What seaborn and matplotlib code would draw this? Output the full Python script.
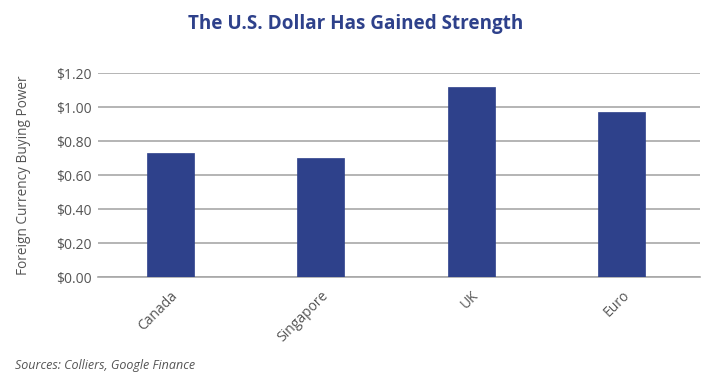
import matplotlib
matplotlib.use("Agg")
import matplotlib.pyplot as plt
import seaborn as sns
import pandas as pd

categories = ["Canada", "Singapore", "UK", "Euro"]
values = [0.73, 0.70, 1.12, 0.97]
yticks = [0.0, 0.2, 0.4, 0.6, 0.8, 1.0, 1.2]
ytick_labels = ["$0.00", "$0.20", "$0.40", "$0.60", "$0.80", "$1.00", "$1.20"]

sns.set_theme(style="white")
plt.rcParams['font.family'] = ['Open Sans', 'DejaVu Sans']

df = pd.DataFrame({"cat": categories, "val": values})

fig = plt.figure(figsize=(7.13, 3.75), dpi=100)
ax = fig.add_axes([98/713, 1 - 277/375, (700-98)/713, (277-73)/375])

sns.barplot(data=df, x="cat", y="val", color="#2E418B", width=0.313,
            saturation=1, ax=ax, zorder=3, edgecolor="#2E418B", linewidth=0.5)

ax.set_ylim(0, 1.2)
ax.set_xlim(-0.48, 3.52)
ax.set_yticks(yticks)
ax.set_yticklabels(ytick_labels, color="#555555", fontsize=10)
ax.yaxis.grid(True, color="#A8A8A8", linewidth=1.2, zorder=0)
ax.xaxis.grid(False)
for s in ["top", "right", "left"]:
    ax.spines[s].set_visible(False)
ax.spines["bottom"].set_color("#A8A8A8")
ax.spines["bottom"].set_linewidth(1.2)
ax.tick_params(axis="y", length=0, pad=4.5)
ax.tick_params(axis="x", length=0, pad=8)
ax.set_xlabel("")
ax.set_ylabel("Foreign Currency Buying Power", color="#555555", fontsize=9.8, labelpad=18)
plt.setp(ax.get_xticklabels(), rotation=45, ha="right", rotation_mode="anchor",
         color="#555555", fontsize=10)

fig.text(356/713, 1 - 24/375, "The U.S. Dollar Has Gained Strength", ha="center", va="center",
         fontsize=13.6, fontweight="bold", color="#2E418B")
fig.text(15/713, 1 - 365/375, "Sources: Colliers, Google Finance", ha="left", va="center",
         fontsize=9, style="italic", color="#555555")

fig.savefig("out.png", dpi=100)
